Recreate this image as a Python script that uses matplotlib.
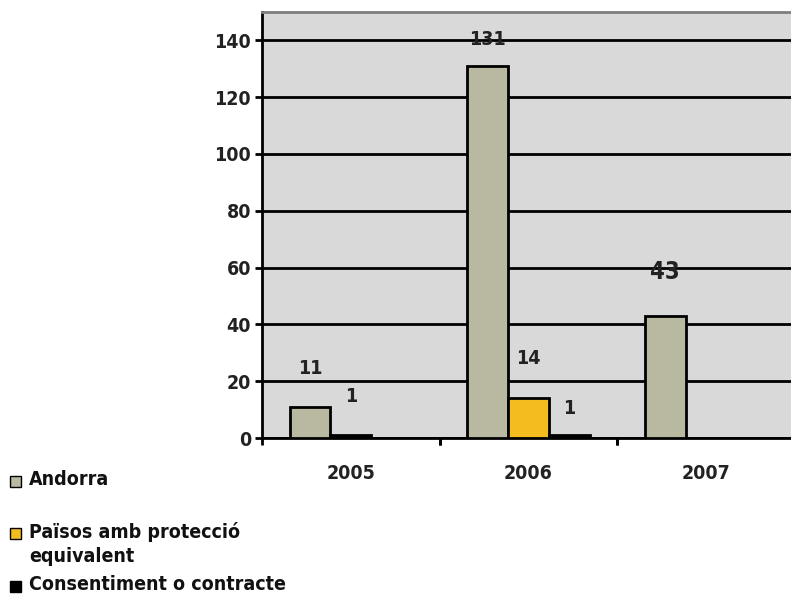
import numpy as np
import matplotlib
matplotlib.use("Agg")
import matplotlib.pyplot as plt
from matplotlib.patches import Rectangle

plt.rcParams['font.family'] = ['DejaVu Sans']
plt.rcParams['font.stretch'] = 'condensed'
plt.rcParams['font.weight'] = 'bold'

years = ["2005", "2006", "2007"]
series = ["Andorra", "Països amb protecció\nequivalent", "Consentiment o contracte"]
andorra = [11, 131, 43]
paisos = [None, 14, None]
consentiment = [1, 1, None]
colors = ["#b9b8a1", "#f3bd1f", "#000000"]

values = [andorra, paisos, consentiment]

# label offsets (points above bar top) and font sizes per (series, year)
label_offset = {(0, 0): 21, (2, 0): 21, (0, 1): 12, (1, 1): 22, (2, 1): 12, (0, 2): 23}
label_size = {(0, 2): 17}

fig = plt.figure(figsize=(7.91, 5.99), dpi=100)
ax = fig.add_axes([262 / 791, 161 / 599, 533 / 791, 426 / 599])
ax.set_facecolor("#d9d9d9")

width = 0.23
x = np.arange(len(years))
for j in range(len(years)):
    present = [i for i in range(len(series)) if values[i][j] is not None]
    for slot, i in enumerate(present):
        xc = x[j] + (slot - 1) * width
        v = values[i][j]
        ax.bar(xc, v, width=width, color=colors[i], edgecolor="black",
               linewidth=2, zorder=3)
        ax.annotate(str(v), (xc, v), xytext=(0, label_offset.get((i, j), 20)),
                    textcoords="offset points", ha="center", va="bottom",
                    fontsize=label_size.get((i, j), 14), fontweight="bold",
                    color="#222222", zorder=4)

ax.set_xlim(-0.5, 2.5)
ax.set_ylim(0, 150)
ax.set_yticks(np.arange(0, 141, 20))
ax.yaxis.grid(True, color="black", linewidth=2, zorder=1)
ax.set_axisbelow(True)

ax.set_xticks(x)
ax.set_xticklabels(years)
ax.tick_params(axis="x", which="major", length=0, pad=19, labelsize=14)
ax.set_xticks(np.r_[x - 0.5, x[:-1] + 0.5], minor=True)
ax.tick_params(axis="x", which="minor", length=5, width=2, direction="out")
ax.tick_params(axis="y", length=5, width=2, pad=3, labelsize=14)
for lab in ax.get_xticklabels() + ax.get_yticklabels():
    lab.set_fontweight("bold")
    lab.set_color("#222222")

ax.spines["left"].set_linewidth(2)
ax.spines["bottom"].set_linewidth(2)
ax.spines["top"].set_color("#7f7f7f")
ax.spines["top"].set_linewidth(2)
ax.spines["right"].set_visible(False)

# legend drawn at the lower left
legend_y = [481, 533, 586]
for i, name in enumerate(series):
    yy = 1 - legend_y[i] / 599
    fig.patches.append(Rectangle((10 / 791, yy - 5.5 / 599), 11 / 791, 11 / 599,
                                 transform=fig.transFigure, facecolor=colors[i],
                                 edgecolor="black", linewidth=1))
    fig.text(29 / 791, yy + 11 / 599, name, ha="left", va="top", fontsize=14,
             fontweight="bold", color="#111111", linespacing=1.3)

fig.savefig("out.png", dpi=100)
